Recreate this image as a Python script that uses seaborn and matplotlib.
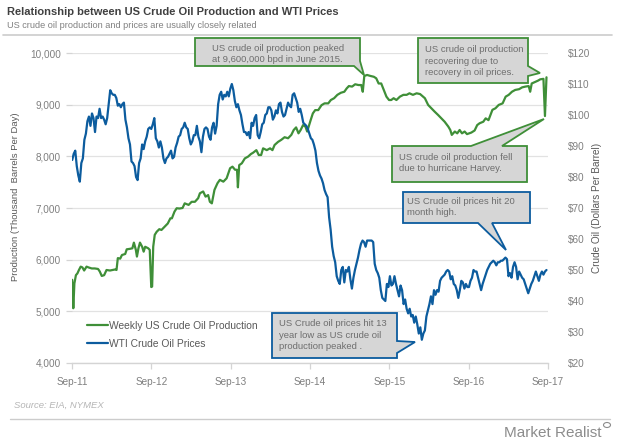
import numpy as np
import pandas as pd
import matplotlib
matplotlib.use("Agg")
import matplotlib.pyplot as plt
from matplotlib.patches import Polygon, Circle
from matplotlib.lines import Line2D
import seaborn as sns

# ---------------- data ----------------
series_names = ["Weekly US Crude Oil Production", "WTI Crude Oil Prices"]

# Weekly WTI price ($/bbl), one value per week starting 2011-09-02
price_start = "2011-09-02"
price_usd = [
    # 2011
    85.5, 87.5, 88.5, 83.5, 80.5, 78.5, 84.5, 86.0, 92.0, 94.0, 98.0, 99.5, 96.5, 100.5, 99.0, 94.5, 99.5, 99.0,
    # 2012
    102.0, 99.0, 99.5, 98.5, 97.0, 99.0, 103.5, 108.0, 107.0, 106.5, 106.5, 105.5, 103.0,
    103.5, 102.5, 103.5, 104.0, 98.5, 96.0, 92.5, 90.5, 85.0, 84.5, 83.5, 80.0, 79.0,
    84.5, 86.0, 90.5, 89.0, 91.5, 93.0, 95.5, 96.0, 95.5, 97.0, 99.0, 92.5, 91.5,
    89.5, 91.5, 89.5, 86.0, 84.5, 86.0, 86.5, 87.5, 88.5, 86.0, 86.5, 89.5, 91.0,
    # 2013
    93.0, 93.5, 95.5, 96.0, 97.5, 96.0, 95.5, 92.5, 90.5, 91.5, 93.5, 93.5, 96.5,
    93.0, 91.5, 88.0, 93.0, 95.5, 96.0, 95.5, 93.0, 92.0, 96.0, 97.5, 94.0, 96.5,
    103.5, 106.5, 107.5, 105.0, 106.5, 106.0, 107.5, 106.0, 108.5, 110.0, 108.0, 104.5, 102.5,
    103.5, 101.5, 100.0, 97.0, 94.5, 94.5, 93.5, 94.5, 92.5, 97.5, 96.5, 99.0, 100.0,
    # 2014
    93.5, 92.5, 94.5, 97.0, 97.5, 100.0, 100.5, 102.5, 102.5, 101.5, 98.5, 99.5, 101.5,
    100.5, 103.5, 104.0, 101.0, 99.5, 100.0, 102.0, 104.0, 103.0, 102.5, 106.5, 107.0, 105.5,
    104.0, 101.0, 102.0, 100.0, 97.5, 97.0, 96.5, 95.5, 94.0, 92.5, 92.0, 90.5, 88.5,
    84.5, 82.0, 80.5, 79.5, 78.0, 75.8, 74.5, 73.5, 67.0, 63.0, 57.5, 54.5, 52.5,
    # 2015
    48.0, 46.5, 45.5, 50.0, 51.0, 46.0, 50.0, 49.5, 51.0, 47.0, 44.0, 47.5, 50.0,
    52.0, 54.0, 56.5, 58.5, 59.5, 59.0, 57.5, 59.5, 59.5, 59.5, 59.5, 59.0, 52.0,
    50.0, 49.0, 47.5, 43.5, 41.0, 40.5, 40.0, 45.5, 44.5, 48.0, 45.0, 45.5, 48.0,
    45.5, 43.5, 41.5, 45.0, 43.5, 39.0, 40.5, 37.5, 36.0, 37.5, 35.0, 35.5, 33.0,
    # 2016
    35.0, 32.5, 29.5, 31.5, 27.5, 29.5, 30.5, 35.0, 37.0, 39.0, 41.5, 39.0, 43.5,
    42.0, 43.5, 43.0, 46.5, 47.5, 48.0, 48.5, 49.5, 50.0, 49.5, 47.0, 48.0, 45.5,
    45.0, 43.5, 41.0, 43.5, 46.5, 46.0, 44.0, 45.5, 44.5, 44.5, 46.5, 47.5, 50.0, 49.5,
    49.5, 47.5, 45.5, 43.5, 45.5, 47.0, 48.5, 50.0, 51.0, 52.0, 52.5, 53.0, 52.5,
    # 2017
    51.5, 52.5, 52.5, 53.0, 53.0, 53.5, 54.0, 53.5, 48.0, 49.0, 47.5, 51.0, 52.5,
    51.0, 47.0, 49.5, 48.5, 47.5, 47.0, 45.5, 44.0, 42.5, 44.0, 45.5, 46.5, 48.0,
    49.5, 48.0, 46.5, 48.5, 49.5, 48.5, 49.5, 50.0,
]

# Weekly US crude oil production (thousand bpd), sampled points
prod_dates = [
    "2011-09-02", "2011-09-07", "2011-09-12", "2011-09-19", "2011-09-26", "2011-10-03", "2011-10-11",
    "2011-10-19", "2011-10-27", "2011-11-07", "2011-11-16", "2011-12-01", "2011-12-15", "2011-12-30",
    "2012-01-07", "2012-01-16", "2012-01-27", "2012-02-07", "2012-02-23", "2012-03-06", "2012-03-17",
    "2012-03-24", "2012-03-30", "2012-04-10", "2012-04-18", "2012-05-03", "2012-05-10", "2012-05-25",
    "2012-06-05", "2012-06-12", "2012-06-21", "2012-06-26", "2012-07-03", "2012-07-10", "2012-07-20",
    "2012-07-27", "2012-08-03", "2012-08-17", "2012-08-24", "2012-08-31", "2012-09-04", "2012-09-09",
    "2012-09-16", "2012-09-25", "2012-10-07", "2012-10-17", "2012-11-01", "2012-11-15", "2012-11-27",
    "2012-12-04", "2012-12-16", "2012-12-26", "2013-01-08", "2013-01-22", "2013-02-01", "2013-02-19",
    "2013-03-05", "2013-03-20", "2013-04-04", "2013-04-12", "2013-04-27", "2013-05-08", "2013-05-20",
    "2013-05-28", "2013-06-06", "2013-06-18", "2013-07-02", "2013-07-13", "2013-07-29", "2013-08-13",
    "2013-08-29", "2013-09-09", "2013-09-21", "2013-09-30", "2013-10-04", "2013-10-10", "2013-10-22",
    "2013-11-05", "2013-11-20", "2013-12-03", "2013-12-13", "2013-12-28", "2014-01-08", "2014-01-19",
    "2014-01-28", "2014-02-14", "2014-03-01", "2014-03-12", "2014-03-22", "2014-04-07", "2014-04-22",
    "2014-05-07", "2014-05-23", "2014-06-07", "2014-06-18", "2014-06-29", "2014-07-10", "2014-07-20",
    "2014-07-31", "2014-08-11", "2014-08-19", "2014-08-28", "2014-09-04", "2014-09-14", "2014-09-25",
    "2014-10-09", "2014-10-24", "2014-11-07", "2014-11-24", "2014-12-06", "2014-12-21", "2015-01-05",
    "2015-01-21", "2015-02-06", "2015-02-17", "2015-02-27", "2015-03-14", "2015-03-28", "2015-04-12",
    "2015-04-25", "2015-05-02", "2015-05-09", "2015-05-22", "2015-06-07", "2015-06-22", "2015-07-03",
    "2015-07-14", "2015-07-26", "2015-08-07", "2015-08-19", "2015-08-31", "2015-09-10", "2015-09-21",
    "2015-10-04", "2015-10-20", "2015-11-05", "2015-11-20", "2015-12-03", "2015-12-19", "2016-01-05",
    "2016-01-21", "2016-02-12", "2016-02-27", "2016-03-13", "2016-03-28", "2016-04-13", "2016-04-28",
    "2016-05-13", "2016-05-30", "2016-06-08", "2016-06-15", "2016-06-29", "2016-07-10", "2016-07-21",
    "2016-08-01", "2016-08-13", "2016-08-24", "2016-09-13", "2016-09-28", "2016-10-10", "2016-10-21",
    "2016-11-07", "2016-11-18", "2016-12-01", "2016-12-19", "2017-01-02", "2017-01-17", "2017-02-04",
    "2017-02-18", "2017-03-04", "2017-03-19", "2017-04-03", "2017-04-21", "2017-05-05", "2017-05-20",
    "2017-06-04", "2017-06-11", "2017-06-18", "2017-07-06", "2017-07-17", "2017-07-27", "2017-08-11",
    "2017-08-18", "2017-08-25",
]
prod_kbd = [
    5610, 5060, 5540, 5700, 5735, 5800, 5865,
    5850, 5790, 5865, 5850, 5830, 5830, 5820,
    5770, 5685, 5700, 5800, 5790, 5800, 5810,
    5800, 6030, 6020, 6090, 6110, 6200, 6210,
    6220, 6330, 6190, 6060, 6220, 6330, 6250,
    6155, 6250, 6220, 6190, 5470, 5480, 6250,
    6480, 6540, 6590, 6575, 6640, 6700, 6800,
    6800, 6930, 6995, 6990, 7000, 7090, 7060,
    7120, 7120, 7190, 7285, 7320, 7220, 7250,
    7120, 7090, 7350, 7480, 7545, 7510, 7575,
    7770, 7800, 7740, 7740, 7400, 7830, 7865,
    7960, 7995, 8045, 8070, 8120, 8025, 8025,
    8155, 8120, 8155, 8120, 8220, 8280, 8320,
    8370, 8350, 8415, 8510, 8560, 8445, 8510,
    8605, 8575, 8480, 8605, 8700, 8830, 8895,
    8895, 8990, 9025, 9025, 9090, 9125, 9190,
    9230, 9250, 9315, 9360, 9350, 9395, 9380,
    9380, 9250, 9555, 9575, 9555, 9540, 9510,
    9410, 9410, 9285, 9155, 9090, 9090, 9125,
    9090, 9155, 9190, 9190, 9220, 9190, 9220,
    9205, 9125, 8995, 8930, 8865, 8800, 8735,
    8670, 8575, 8510, 8415, 8480, 8445, 8510,
    8445, 8480, 8430, 8460, 8500, 8605, 8640,
    8670, 8735, 8700, 8900, 8930, 8995, 9025,
    9155, 9190, 9250, 9285, 9300, 9335, 9350,
    9360, 9250, 9410, 9445, 9465, 9490, 9500,
    8780, 9530,
]

left_ticks = [4000, 5000, 6000, 7000, 8000, 9000, 10000]
right_ticks = [20, 30, 40, 50, 60, 70, 80, 90, 100, 110, 120]
x_tick_dates = ["2011-09-01", "2012-09-01", "2013-09-01", "2014-09-01",
                "2015-09-01", "2016-09-01", "2017-09-01"]
x_tick_labels = ["Sep-11", "Sep-12", "Sep-13", "Sep-14", "Sep-15", "Sep-16", "Sep-17"]

title = "Relationship between US Crude Oil Production and WTI Prices"
subtitle = "US crude oil production and prices are usually closely related"

# ---------------- style ----------------
GREEN = "#3f8f38"
BLUE = "#0c5c9e"
BOX = "#d6d6d6"

sns.set_theme(style="white")
plt.rcParams["font.family"] = ["Liberation Sans", "DejaVu Sans"]

W, H = 620, 443
fig = plt.figure(figsize=(W / 100, H / 100), dpi=100)
fig.patch.set_facecolor("white")


def fx(x):
    return x / W


def fy(y):
    return 1 - y / H


ax = fig.add_axes([fx(72), fy(363), (548 - 72) / W, (363 - 53) / H])
ax2 = ax.twinx()

prod_df = pd.DataFrame({"date": pd.to_datetime(prod_dates), "value": prod_kbd})
price_df = pd.DataFrame({"date": pd.date_range(price_start, periods=len(price_usd), freq="7D"),
                         "value": price_usd})

sns.lineplot(data=prod_df, x="date", y="value", ax=ax, color=GREEN, linewidth=1.6, legend=False)
sns.lineplot(data=price_df, x="date", y="value", ax=ax2, color=BLUE, linewidth=1.6, legend=False)

ax.set_xlim(pd.Timestamp(x_tick_dates[0]), pd.Timestamp(x_tick_dates[-1]))
ax.set_xticks(pd.to_datetime(x_tick_dates))
ax.set_xticklabels(x_tick_labels)

ax.set_ylim(left_ticks[0], left_ticks[-1])
ax.set_yticks(left_ticks)
ax.set_yticklabels([f"{v:,}" for v in left_ticks])
ax2.set_ylim(right_ticks[0], right_ticks[-1])
ax2.set_yticks(right_ticks)
ax2.set_yticklabels([f"${v}" for v in right_ticks])

for s in ["top", "left", "right"]:
    ax.spines[s].set_visible(False)
ax.spines["bottom"].set_color("#d4d4d4")
ax.spines["bottom"].set_linewidth(1.0)
for s in ax2.spines.values():
    s.set_visible(False)

ax.grid(axis="y", color="#e2e2e2", linewidth=0.9)
ax.grid(axis="x", visible=False)
ax2.grid(False)
ax.set_axisbelow(True)

TICKC = "#7f7f7f"
ax.tick_params(axis="y", left=True, length=4, color="#d4d4d4", width=0.9,
               labelcolor=TICKC, labelsize=7.2, pad=4)
ax.tick_params(axis="x", bottom=True, length=4, color="#d4d4d4", width=0.9,
               labelcolor=TICKC, labelsize=7.2, pad=6)
ax2.tick_params(axis="y", right=True, length=0, labelcolor=TICKC, labelsize=7.2, pad=14)

ax.set_xlabel("")
ax.set_ylabel("Production (Thousand  Barrels Per Day)", fontsize=6.8, color="#595959")
ax.yaxis.set_label_coords(-0.109, 0.537)
ax2.set_ylabel("Crude Oil (Dollars Per Barrel)", fontsize=7.2, color="#595959", rotation=90)
ax2.yaxis.set_label_coords(1.092, 0.5)

handles = [Line2D([0], [0], color=GREEN, lw=1.6), Line2D([0], [0], color=BLUE, lw=1.6)]
ax2.legend(handles, series_names, loc="upper left", bbox_to_anchor=(fx(87), fy(321)),
           bbox_transform=fig.transFigure, frameon=False, fontsize=7.4,
           handlelength=2.0, handletextpad=0.15, labelspacing=0.75,
           borderaxespad=0, borderpad=0, labelcolor="#595959")

# ---------------- header / footer ----------------
fig.text(fx(7), fy(12), title, fontsize=8, fontweight="bold", color="#404040",
         ha="left", va="center")
fig.text(fx(7), fy(26), subtitle, fontsize=6.6, color="#808080", ha="left", va="center")
fig.add_artist(Line2D([fx(3), fx(612)], [fy(35), fy(35)], color="#cccccc", lw=1.2,
                      transform=fig.transFigure))
fig.text(fx(14), fy(405), "Source: EIA, NYMEX", fontsize=6.8, style="italic", color="#b5b5b5",
         ha="left", va="center")
fig.add_artist(Line2D([fx(10), fx(610)], [fy(419), fy(419)], color="#cccccc", lw=1.0,
                      transform=fig.transFigure))
fig.text(fx(601), fy(433), "Market Realist", fontsize=11, color="#8c8c8c", ha="right", va="center")
fig.add_artist(Circle((fx(607), fy(425)), 3.5 / W, transform=fig.transFigure,
                      facecolor="none", edgecolor="#8c8c8c", lw=0.8))


# ---------------- callouts ----------------
def callout(pts, color, text, tx, ty):
    poly = Polygon([(fx(x), fy(y)) for x, y in pts], closed=True, transform=fig.transFigure,
                   facecolor=BOX, edgecolor=color, lw=1.3, zorder=20)
    fig.add_artist(poly)
    fig.text(fx(tx), fy(ty), text, ha="left", va="center", fontsize=6.8, color="#6e6e6e",
             linespacing=1.35, zorder=21)


callout([(195, 38), (360, 38), (360, 61), (364, 75), (354, 66), (195, 66)], GREEN,
        "US crude oil production peaked\nat 9,600,000 bpd in June 2015.", 212, 54)
callout([(418, 38), (528, 38), (528, 66), (540, 73), (528, 76), (528, 83), (418, 83)], GREEN,
        "US crude oil production\nrecovering due to\nrecovery in oil prices.", 425, 61)
callout([(392, 146), (471, 146), (544, 119), (502, 146), (527, 146), (527, 182), (392, 182)], GREEN,
        "US crude oil production fell\ndue to hurricane Harvey.", 399, 163)
callout([(403, 192), (530, 192), (530, 223), (492, 223), (506, 250), (478, 223), (403, 223)], BLUE,
        "US Crude oil prices hit 20\nmonth high.", 407, 207)
callout([(272, 313), (397, 313), (397, 341), (415, 342), (397, 353), (397, 358), (272, 358)], BLUE,
        "US Crude oil prices hit 13\nyear low as US crude oil\nproduction peaked .", 279, 335)

fig.savefig("out.png", dpi=100)
